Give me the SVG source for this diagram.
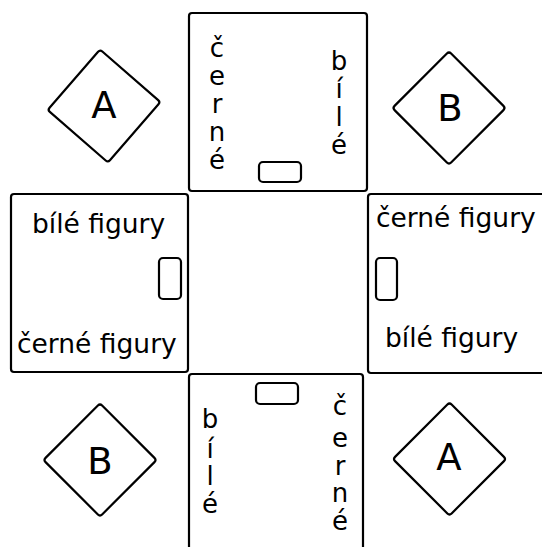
<svg xmlns="http://www.w3.org/2000/svg" width="542" height="547" viewBox="0 0 542 547">
<style>
.box{fill:#fff;stroke:#000;stroke-width:2.2}
.slot{fill:#fff;stroke:#000;stroke-width:2.2}
.dia{fill:#fff;stroke:#000;stroke-width:2.2}
text{font-family:"DejaVu Sans",Verdana,sans-serif;fill:#000}
.lbl{font-size:26.5px}
.v{font-size:26px;text-anchor:middle}
.big{font-size:37px;text-anchor:middle}
</style>
<rect width="542" height="547" fill="#fff"/>
<g id="connectors"></g>
<g id="board-top">
<rect class="box" x="189" y="13" width="178" height="178" rx="3"/>
<rect class="slot" x="259" y="162" width="42" height="20" rx="4"/>
<text class="v" x="217" y="57">č</text>
<text class="v" x="217" y="85">e</text>
<text class="v" x="217" y="113">r</text>
<text class="v" x="217" y="141">n</text>
<text class="v" x="217" y="169">é</text>
<text class="v" x="339" y="70">b</text>
<text class="v" x="339" y="98">í</text>
<text class="v" x="339" y="126">l</text>
<text class="v" x="339" y="154">é</text>
</g>
<g id="board-left">
<rect class="box" x="11" y="194" width="177" height="178" rx="3"/>
<rect class="slot" x="159" y="258" width="22" height="41" rx="4"/>
<text class="lbl" x="32" y="233">bílé figury</text>
<text class="lbl" x="17" y="353">černé figury</text>
</g>
<g id="board-right">
<rect class="box" x="368" y="194" width="180" height="179" rx="3"/>
<rect class="slot" x="376" y="258" width="21" height="42" rx="4"/>
<text class="lbl" x="376" y="227">černé figury</text>
<text class="lbl" x="385" y="347">bílé figury</text>
</g>
<g id="board-bottom">
<rect class="box" x="189" y="374" width="174" height="180" rx="3"/>
<rect class="slot" x="256" y="383" width="42" height="21" rx="4"/>
<text class="v" x="210" y="428">b</text>
<text class="v" x="210" y="458">í</text>
<text class="v" x="210" y="485">l</text>
<text class="v" x="210" y="513">é</text>
<text class="v" x="340" y="415">č</text>
<text class="v" x="340" y="447">e</text>
<text class="v" x="340" y="475">r</text>
<text class="v" x="340" y="502">n</text>
<text class="v" x="340" y="530">é</text>
</g>
<g id="diamond-a-top">
<rect class="dia" x="-40" y="-40" width="80" height="80" rx="3" transform="translate(104,106) rotate(41)"/>
<text class="big" x="104" y="118">A</text>
</g>
<g id="diamond-b-top">
<rect class="dia" x="-40" y="-40" width="80" height="80" rx="3" transform="translate(449,108) rotate(45)"/>
<text class="big" x="450" y="121">B</text>
</g>
<g id="diamond-b-bottom">
<rect class="dia" x="-40" y="-40" width="80" height="80" rx="3" transform="translate(100,460) rotate(45)"/>
<text class="big" x="100" y="474">B</text>
</g>
<g id="diamond-a-bottom">
<rect class="dia" x="-40" y="-40" width="80" height="80" rx="3" transform="translate(449.5,459) rotate(45)"/>
<text class="big" x="449" y="470">A</text>
</g>
</svg>
